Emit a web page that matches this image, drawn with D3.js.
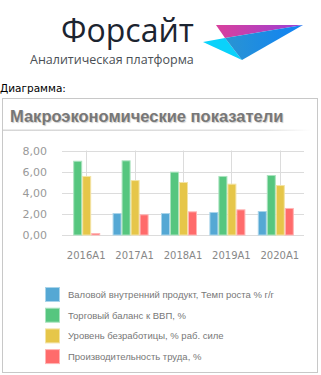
<!doctype html>
<html>
<head>
<meta charset="utf-8">
<title>Макроэкономические показатели</title>
<script src="https://cdn.jsdelivr.net/npm/d3@7"></script>
<style>
*{margin:0;padding:0;}
body{background:white;width:321px;height:375px;overflow:hidden;}
</style>
</head>
<body>
<script>
// данные
var years = ["2016A1", "2017A1", "2018A1", "2019A1", "2020A1"];
var seriesNames = [
  "Валовой внутренний продукт, Темп роста % г/г",
  "Торговый баланс к ВВП, %",
  "Уровень безработицы, % раб. силе",
  "Производительность труда, %"
];
var gdp = [0, 2.08, 2.08, 2.18, 2.27];
var trade = [7.03, 7.07, 6.0, 5.59, 5.68];
var unemp = [5.59, 5.2, 5.02, 4.86, 4.73];
var prod = [0.19, 1.96, 2.24, 2.43, 2.56];
var yTicks = [0, 2, 4, 6, 8];
var colors = ["#55a8d4", "#56c67f", "#e6c649", "#ff6b6b"];
var strokes = ["#a9d4ea", "#aae3bf", "#f3e3a4", "#ffb5b5"];

var svg = d3.select("body").append("svg").attr("width", 321).attr("height", 375);
var defs = svg.append("defs");

// логотип
var g1 = defs.append("linearGradient").attr("id", "pink");
g1.append("stop").attr("offset", "0%").attr("stop-color", "#d9409c");
g1.append("stop").attr("offset", "100%").attr("stop-color", "#9a3fd6");
var g2 = defs.append("linearGradient").attr("id", "blue");
g2.append("stop").attr("offset", "0%").attr("stop-color", "#2a94d2");
g2.append("stop").attr("offset", "100%").attr("stop-color", "#0f82f5");
var g3 = defs.append("linearGradient").attr("id", "line");
g3.append("stop").attr("offset", "0%").attr("stop-color", "#d6d6d6");
g3.append("stop").attr("offset", "85%").attr("stop-color", "#e2e2e2");
g3.append("stop").attr("offset", "100%").attr("stop-color", "#ffffff");

svg.append("text").text("Форсайт")
  .attr("x", 61).attr("y", 42)
  .attr("font-family", "Open Sans").attr("font-size", "32px")
  .attr("fill", "#1c2430");
svg.append("text").text("Аналитическая платформа")
  .attr("x", 30).attr("y", 64)
  .attr("font-family", "Open Sans").attr("font-size", "12.5px")
  .attr("fill", "#4a4f55");
svg.append("polygon").attr("points", "216,25 303,25 225,38").attr("fill", "url(#pink)");
svg.append("polygon").attr("points", "203,42 225,38 242,60").attr("fill", "#0ad2fb");
svg.append("polygon").attr("points", "225,38 303,25 242,60").attr("fill", "url(#blue)");

svg.append("text").text("Диаграмма:")
  .attr("x", 0).attr("y", 92)
  .attr("font-family", "DejaVu Sans").attr("font-size", "10.5px")
  .attr("fill", "#000");

// рамка
svg.append("rect").attr("x", 2.5).attr("y", 98.5).attr("width", 315).attr("height", 274)
  .attr("fill", "white").attr("stroke", "#c8c8c8");
svg.append("text").text("Макроэкономические показатели")
  .attr("x", 10).attr("y", 122)
  .attr("font-family", "Liberation Sans").attr("font-weight", "bold").attr("font-size", "16.5px")
  .attr("fill", "#777").attr("style", "text-shadow:1px 1px 1px #ccc");
svg.append("rect").attr("x", 3).attr("y", 129.5).attr("width", 308).attr("height", 1.5)
  .attr("fill", "url(#line)");

// оси
var x = d3.scaleBand().domain(years).range([62, 304]);
var y = d3.scaleLinear().domain([0, 8]).range([235, 150.5]);

svg.selectAll(".hg").data(yTicks).enter().append("line")
  .attr("x1", 62).attr("x2", 304)
  .attr("y1", function(d){ return Math.round(y(d)) + 0.5; })
  .attr("y2", function(d){ return Math.round(y(d)) + 0.5; })
  .attr("stroke", "#dcdcdc");
svg.selectAll(".vg").data(years).enter().append("line")
  .attr("x1", function(d){ return Math.round(x(d) + x.bandwidth() / 2) + 0.5; })
  .attr("x2", function(d){ return Math.round(x(d) + x.bandwidth() / 2) + 0.5; })
  .attr("y1", 150.5).attr("y2", 235)
  .attr("stroke", "#dcdcdc");

svg.selectAll(".yl").data(yTicks).enter().append("text")
  .text(function(d){ return d3.format(".2f")(d).replace(".", ","); })
  .attr("x", 47).attr("y", function(d){ return y(d) + 4; })
  .attr("text-anchor", "end")
  .attr("font-family", "DejaVu Sans").attr("font-size", "11px")
  .attr("fill", "#999");
svg.selectAll(".xl").data(years).enter().append("text")
  .text(function(d){ return d; })
  .attr("x", function(d){ return x(d) + x.bandwidth() / 2; }).attr("y", 259)
  .attr("text-anchor", "middle")
  .attr("font-family", "DejaVu Sans").attr("font-size", "10px")
  .attr("fill", "#888");

// столбцы
var series = [gdp, trade, unemp, prod];
var inner = d3.scaleBand().domain(d3.range(4)).range([-18, 18]);
series.forEach(function(vals, i) {
  var pts = vals.map(function(v, j){ return {year: years[j], value: v}; })
    .filter(function(p){ return p.value > 0; });
  svg.selectAll(".b" + i).data(pts).enter().append("rect")
    .attr("x", function(p){ return x(p.year) + x.bandwidth() / 2 - 4 + inner(i) + 0.5; })
    .attr("width", inner.bandwidth() - 1)
    .attr("y", function(p){ return y(p.value) + 0.5; })
    .attr("height", function(p){ return y(0) - y(p.value) - 0.5; })
    .attr("fill", colors[i]).attr("stroke", strokes[i]);
});

// легенда
var leg = svg.selectAll(".lg").data(seriesNames).enter().append("g")
  .attr("transform", function(d, i){ return "translate(45," + (287 + i * 20.7) + ")"; });
leg.append("rect").attr("x", 0.5).attr("y", 0.5).attr("width", 14).attr("height", 14)
  .attr("fill", function(d, i){ return colors[i]; })
  .attr("stroke", function(d, i){ return strokes[i]; });
leg.append("text").text(function(d){ return d; })
  .attr("x", 23).attr("y", 11)
  .attr("font-family", "Liberation Sans").attr("font-size", "9.5px")
  .attr("fill", "#777");
</script>
</body>
</html>
